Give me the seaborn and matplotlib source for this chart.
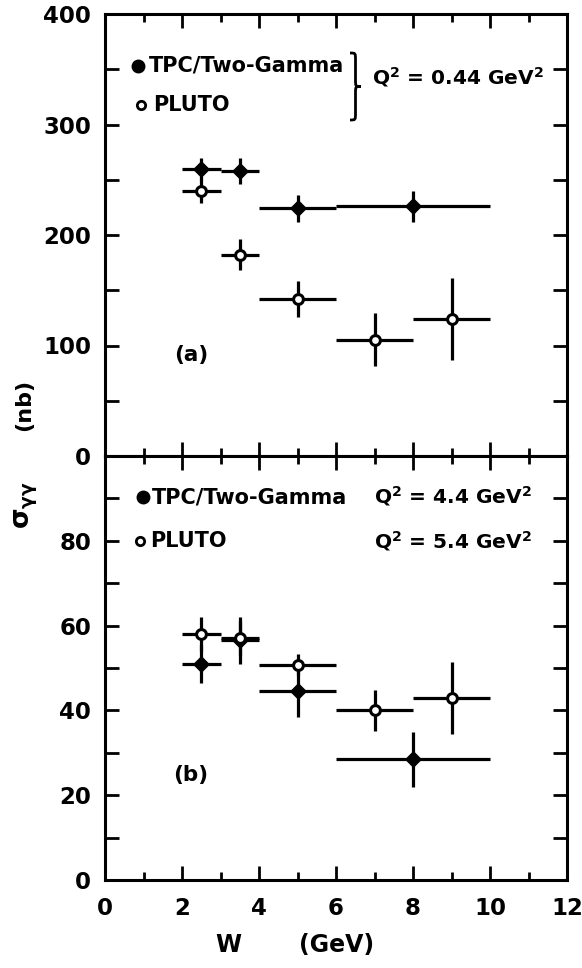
import numpy as np
import pandas as pd
import matplotlib
matplotlib.use("Agg")
import matplotlib.pyplot as plt
import seaborn as sns
from matplotlib.ticker import MultipleLocator
from matplotlib.path import Path
from matplotlib.patches import PathPatch

# ---- data ----
# Panel (a): Q^2 = 0.44 GeV^2
a_tpc_w = [2.5, 3.5, 5.0, 8.0]
a_tpc_werr = [0.5, 0.5, 1.0, 2.0]
a_tpc_sig = [260, 258, 224, 226]
a_tpc_err = [10, 12, 12, 14]

a_pluto_w = [2.5, 3.5, 5.0, 7.0, 9.0]
a_pluto_werr = [0.5, 0.5, 1.0, 1.0, 1.0]
a_pluto_sig = [240, 182, 142, 105, 124]
a_pluto_err = [11, 14, 16, 24, 37]

# Panel (b): TPC Q^2 = 4.4, PLUTO Q^2 = 5.4 GeV^2
b_tpc_w = [2.5, 3.5, 5.0, 8.0]
b_tpc_werr = [0.5, 0.5, 1.0, 2.0]
b_tpc_sig = [51, 56.5, 44.5, 28.5]
b_tpc_err = [4.5, 5.5, 6.0, 6.5]

b_pluto_w = [2.5, 3.5, 5.0, 7.0, 9.0]
b_pluto_werr = [0.5, 0.5, 1.0, 1.0, 1.0]
b_pluto_sig = [58, 57, 50.8, 40, 43]
b_pluto_err = [4, 4, 2.5, 4.8, 8.5]

x_ticks = [0, 2, 4, 6, 8, 10, 12]
a_yticks = [0, 100, 200, 300, 400]
b_yticks = [0, 20, 40, 60, 80]

sns.set_style("ticks")
plt.rcParams['font.family'] = ['DejaVu Sans']
plt.rcParams['font.weight'] = 'bold'
plt.rcParams['mathtext.default'] = 'regular'
for k in ['text.color', 'axes.labelcolor', 'xtick.color', 'ytick.color', 'axes.edgecolor']:
    plt.rcParams[k] = 'black'

W_PX, H_PX = 582, 968
fig = plt.figure(figsize=(5.82, 9.68), dpi=100)


def fx(px):
    return px / W_PX


def fy(py):
    return 1 - py / H_PX


L, R = fx(105), fx(567)
y_top, y_mid, y_bot = fy(14), fy(456), fy(880)
axA = fig.add_axes([L, y_mid, R - L, y_top - y_mid])
axB = fig.add_axes([L, y_bot, R - L, y_mid - y_bot])

LW = 2.3


def draw(ax, w, werr, s, serr, filled):
    ax.errorbar(w, s, xerr=werr, yerr=serr, fmt='none', ecolor='black',
                elinewidth=LW, capsize=0, zorder=2)
    df = pd.DataFrame({'W': w, 'sig': s})
    if filled:
        sns.scatterplot(data=df, x='W', y='sig', ax=ax, marker='D', s=60,
                        color='black', edgecolor='black', linewidth=1, zorder=3)
    else:
        sns.scatterplot(data=df, x='W', y='sig', ax=ax, marker='o', s=50,
                        color='white', edgecolor='black', linewidth=2.2, zorder=4)


draw(axA, a_tpc_w, a_tpc_werr, a_tpc_sig, a_tpc_err, True)
draw(axA, a_pluto_w, a_pluto_werr, a_pluto_sig, a_pluto_err, False)
draw(axB, b_tpc_w, b_tpc_werr, b_tpc_sig, b_tpc_err, True)
draw(axB, b_pluto_w, b_pluto_werr, b_pluto_sig, b_pluto_err, False)

for ax, yt, ymax, ymin_step in [(axA, a_yticks, 400, 50), (axB, b_yticks, 100, 10)]:
    ax.set_xlim(0, 12)
    ax.set_ylim(0, ymax)
    ax.set_xticks(x_ticks)
    ax.xaxis.set_minor_locator(MultipleLocator(1))
    ax.set_yticks(yt)
    ax.yaxis.set_minor_locator(MultipleLocator(ymin_step))
    ax.tick_params(which='both', direction='in', top=True, right=True,
                   width=2, labelsize=16.5, colors='black')
    ax.tick_params(axis='y', pad=10)
    ax.tick_params(axis='x', pad=12)
    ax.tick_params(which='major', length=10)
    ax.tick_params(which='minor', length=6)
    ax.tick_params(axis='y', which='minor', length=10)
    for sp in ax.spines.values():
        sp.set_linewidth(2.2)
        sp.set_color('black')
        sp.set_visible(True)
    ax.set_xlabel('')
    ax.set_ylabel('')
    for lab in ax.get_xticklabels() + ax.get_yticklabels():
        lab.set_fontweight('bold')

axA.tick_params(axis='x', labelbottom=False)

fsl = 15
fsq = 14.5

# Legend texts panel (a)
axA.plot([0.86], [353], marker='o', ms=9, color='black', ls='none')
axA.text(1.14, 353, 'TPC/Two-Gamma', fontsize=fsl, fontweight='bold', va='center')
axA.plot([0.94], [318], marker='o', ms=6, mfc='white', mec='black', mew=2, ls='none')
axA.text(1.25, 318, 'PLUTO', fontsize=fsl, fontweight='bold', va='center')
axA.text(6.94, 343, 'Q$^2$ = 0.44 GeV$^2$', fontsize=fsq, fontweight='bold', va='center')
axA.text(2.23, 91, '(a)', fontsize=15.5, fontweight='bold', va='center', ha='center')

# curly brace (decoration, pixel coordinates)
x0, xm, xt = 350, 355.5, 361
yt_, ymid, yb = 53, 86.5, 120
r = 7
verts = [(x0, yt_), (xm, yt_), (xm, yt_), (xm, yt_ + r),
         (xm, ymid - r),
         (xm, ymid), (xm, ymid), (xt, ymid),
         (xm, ymid), (xm, ymid), (xm, ymid + r),
         (xm, yb - r),
         (xm, yb), (xm, yb), (x0, yb)]
codes = [Path.MOVETO, Path.CURVE4, Path.CURVE4, Path.CURVE4,
         Path.LINETO,
         Path.CURVE4, Path.CURVE4, Path.CURVE4,
         Path.CURVE4, Path.CURVE4, Path.CURVE4,
         Path.LINETO,
         Path.CURVE4, Path.CURVE4, Path.CURVE4]
verts_fig = [(fx(a), fy(b)) for a, b in verts]
fig.add_artist(PathPatch(Path(verts_fig, codes), transform=fig.transFigure,
                         fill=False, lw=2.0, edgecolor='black'))

# Legend texts panel (b)
axB.plot([0.99], [90.3], marker='o', ms=9, color='black', ls='none')
axB.text(1.22, 90.3, 'TPC/Two-Gamma', fontsize=fsl, fontweight='bold', va='center')
axB.plot([0.91], [80], marker='o', ms=6, mfc='white', mec='black', mew=2, ls='none')
axB.text(1.17, 80, 'PLUTO', fontsize=fsl, fontweight='bold', va='center')
axB.text(7.0, 90.6, 'Q$^2$ = 4.4 GeV$^2$', fontsize=fsq, fontweight='bold', va='center')
axB.text(7.0, 80.0, 'Q$^2$ = 5.4 GeV$^2$', fontsize=fsq, fontweight='bold', va='center')
axB.text(2.23, 24.8, '(b)', fontsize=15.5, fontweight='bold', va='center', ha='center')

fig.text(fx(228), fy(945), 'W', fontsize=17, fontweight='bold',
         ha='center', va='center')
fig.text(fx(337), fy(945), '(GeV)', fontsize=17, fontweight='bold',
         ha='center', va='center')
fig.text(fx(26), fy(505), r'$\sigma_{\gamma\gamma}$', fontsize=19,
         fontweight='bold', ha='center', va='center', rotation=90)
fig.text(fx(24), fy(405), '(nb)', fontsize=16,
         fontweight='bold', ha='center', va='center', rotation=90)

fig.savefig('out.png', dpi=100)
